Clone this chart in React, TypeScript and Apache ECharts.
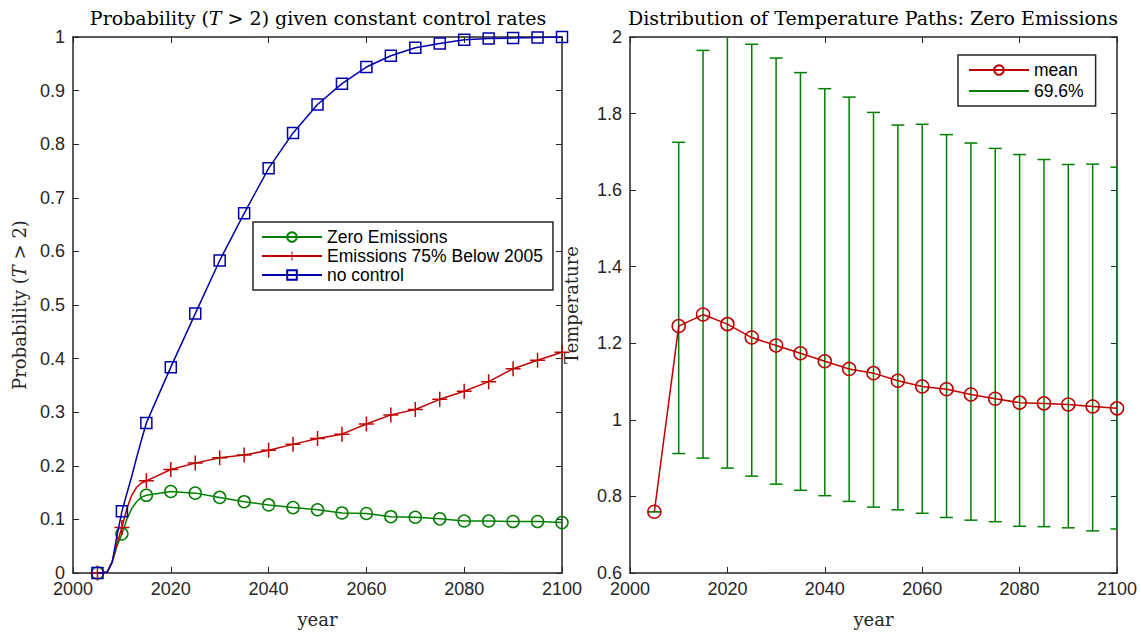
import React, { useEffect, useRef } from "react";
import * as echarts from "echarts";

// ---- Left panel: probability (T > 2) ----
const markerYears = [2005, 2010, 2015, 2020, 2025, 2030, 2035, 2040, 2045, 2050, 2055, 2060, 2065, 2070, 2075, 2080, 2085, 2090, 2095, 2100];
const zeroEmissions = [0, 0.073, 0.145, 0.152, 0.149, 0.141, 0.133, 0.127, 0.122, 0.118, 0.112, 0.111, 0.105, 0.104, 0.101, 0.097, 0.097, 0.096, 0.096, 0.094];
const emissions75 = [0, 0.085, 0.172, 0.193, 0.205, 0.215, 0.22, 0.229, 0.24, 0.251, 0.259, 0.278, 0.295, 0.305, 0.324, 0.339, 0.357, 0.381, 0.397, 0.412];
const noControl = [0, 0.115, 0.28, 0.384, 0.484, 0.583, 0.671, 0.755, 0.821, 0.874, 0.913, 0.944, 0.965, 0.98, 0.988, 0.995, 0.997, 0.998, 0.999, 1.0];
// annual values between markers in the first decade
const earlyYears = [2006, 2007, 2008, 2009, 2011, 2012, 2013, 2014];
const zeroEarly = [0, 0.002, 0.02, 0.05, 0.1, 0.12, 0.133, 0.141];
const e75Early = [0, 0.002, 0.02, 0.055, 0.12, 0.145, 0.16, 0.168];
const noCtrlEarly = [0, 0.002, 0.02, 0.07, 0.148, 0.18, 0.215, 0.248];

// ---- Right panel: temperature paths ----
const meanTemp = [0.76, 1.245, 1.275, 1.25, 1.215, 1.194, 1.174, 1.153, 1.133, 1.122, 1.102, 1.087, 1.08, 1.066, 1.055, 1.045, 1.043, 1.04, 1.035, 1.03];
const bandLow = [0.76, 0.912, 0.9, 0.874, 0.853, 0.832, 0.816, 0.802, 0.787, 0.772, 0.765, 0.756, 0.745, 0.738, 0.734, 0.722, 0.721, 0.718, 0.71, 0.715];
const bandHigh = [0.76, 1.725, 1.965, 2.03, 1.981, 1.945, 1.907, 1.865, 1.843, 1.803, 1.77, 1.772, 1.745, 1.723, 1.709, 1.693, 1.68, 1.667, 1.668, 1.66];

const GREEN = "#007f00";
const RED = "#bf0000";
const BLUE = "#0000a8";
const AXIS = "#262626";
const CLEAR = "rgba(0,0,0,0)";
const SANS = "Liberation Sans, Arial, sans-serif";
const SERIF = "DejaVu Serif, serif";
const PLUS = "path://M9,0H11V9H20V11H11V20H9V11H0V9H9Z";

function buildLine(vals: number[], earlyVals: number[]) {
  const pts: [number, number][] = [];
  markerYears.forEach((y, i) => pts.push([y, vals[i]]));
  earlyYears.forEach((y, i) => pts.push([y, earlyVals[i]]));
  pts.sort((a, b) => a[0] - b[0]);
  return pts.map((p) => (p[0] % 5 === 0 ? { value: p } : { value: p, symbol: "none" }));
}

const axisCommon = {
  axisLine: { show: true, onZero: false, lineStyle: { color: AXIS, width: 1.5 } },
  axisTick: { show: true, inside: true, length: 6, lineStyle: { color: AXIS, width: 1 } },
  splitLine: { show: false },
  axisLabel: { color: AXIS, fontSize: 18, lineHeight: 14, fontFamily: SANS },
};

function xAxes(gridIndex: number) {
  return [
    {
      ...axisCommon,
      gridIndex,
      type: "value",
      position: "bottom",
      min: 2000,
      max: 2100,
      interval: 20,
      axisLabel: { ...axisCommon.axisLabel, margin: 9, formatter: (v: number) => String(v) },
      name: "year",
      nameLocation: "middle",
      nameGap: 37,
      nameTextStyle: { fontFamily: SERIF, fontSize: 18, color: AXIS },
    },
    {
      ...axisCommon,
      gridIndex,
      type: "value",
      position: "top",
      min: 2000,
      max: 2100,
      interval: 20,
      axisLabel: { show: false },
    },
  ];
}

function yAxes(gridIndex: number, min: number, max: number, interval: number, name: string, nameGap: number) {
  return [
    {
      ...axisCommon,
      gridIndex,
      type: "value",
      position: "left",
      min,
      max,
      interval,
      axisLabel: { ...axisCommon.axisLabel, margin: 8 },
      name,
      nameLocation: "middle",
      nameGap,
      nameRotate: 90,
      nameTextStyle: {
        fontFamily: SERIF,
        fontSize: 18,
        color: AXIS,
        rich: {
          n: { fontFamily: SERIF, fontSize: 18, color: AXIS },
          i: { fontFamily: SERIF, fontSize: 18, color: AXIS, fontStyle: "italic" },
        },
      },
    },
    {
      ...axisCommon,
      gridIndex,
      type: "value",
      position: "right",
      min,
      max,
      interval,
      axisLabel: { show: false },
    },
  ];
}

export default function App() {
  const ref = useRef<HTMLDivElement>(null);
  useEffect(() => {
    if (!ref.current) return;
    const chart = echarts.init(ref.current, null, { renderer: "svg" });
    const titleRich = {
      n: { fontFamily: SERIF, fontSize: 19, fill: "#000" },
      i: { fontFamily: SERIF, fontSize: 19, fill: "#000", fontStyle: "italic" },
    };
    const legendText = { fontFamily: SANS, fontSize: 17.5, color: "#000" };
    const option: any = {
      animation: false,
      backgroundColor: "#fff",
      graphic: [
        {
          type: "text",
          x: 318,
          y: 18,
          style: {
            text: "{n|Probability (}{i|T}{n| > 2) given constant control rates}",
            rich: titleRich,
            textAlign: "center",
            textVerticalAlign: "middle",
            fill: "#000",
          },
        },
        {
          type: "text",
          x: 873,
          y: 18,
          style: {
            text: "Distribution of Temperature Paths: Zero Emissions",
            font: "19px " + SERIF,
            textAlign: "center",
            textVerticalAlign: "middle",
            fill: "#000",
          },
        },
      ],
      grid: [
        { left: 73, top: 37, width: 489, height: 539 },
        { left: 630, top: 37, width: 487, height: 539 },
      ],
      xAxis: [...xAxes(0), ...xAxes(1)],
      yAxis: [
        ...yAxes(0, 0, 1, 0.1, "{n|Probability (}{i|T}{n| > 2)}", 45),
        ...yAxes(1, 0.6, 2, 0.2, "Temperature", 50),
      ],
      legend: [
        {
          orient: "vertical",
          left: 253,
          top: 222,
          itemWidth: 60,
          itemHeight: 12,
          itemGap: 1,
          padding: [6, 10, 6, 8],
          backgroundColor: "#fff",
          borderColor: AXIS,
          borderWidth: 1.5,
          borderRadius: 0,
          textStyle: legendText,
          data: ["Zero Emissions", "Emissions 75% Below 2005", "no control"],
        },
        {
          orient: "vertical",
          left: 958,
          top: 55,
          itemWidth: 60,
          itemHeight: 12,
          itemGap: 3,
          padding: [6, 12, 6, 10],
          backgroundColor: "#fff",
          borderColor: AXIS,
          borderWidth: 1.5,
          borderRadius: 0,
          textStyle: legendText,
          data: ["mean", "69.6%"],
        },
      ],
      series: [
        {
          name: "Zero Emissions",
          type: "line",
          xAxisIndex: 0,
          yAxisIndex: 0,
          data: buildLine(zeroEmissions, zeroEarly),
          symbol: "circle",
          symbolSize: 12,
          color: GREEN,
          lineStyle: { color: GREEN, width: 1.5 },
          itemStyle: { color: CLEAR, borderColor: GREEN, borderWidth: 1.5 },
          z: 3,
        },
        {
          name: "Emissions 75% Below 2005",
          type: "line",
          xAxisIndex: 0,
          yAxisIndex: 0,
          data: buildLine(emissions75, e75Early),
          symbol: PLUS,
          symbolSize: 15,
          color: RED,
          lineStyle: { color: RED, width: 1.5 },
          itemStyle: { color: RED },
          z: 4,
        },
        {
          name: "no control",
          type: "line",
          xAxisIndex: 0,
          yAxisIndex: 0,
          data: buildLine(noControl, noCtrlEarly),
          symbol: "rect",
          symbolSize: 11,
          color: BLUE,
          lineStyle: { color: BLUE, width: 1.5 },
          itemStyle: { color: CLEAR, borderColor: BLUE, borderWidth: 1.5 },
          z: 5,
        },
        {
          name: "bars",
          type: "custom",
          xAxisIndex: 2,
          yAxisIndex: 2,
          clip: true,
          data: markerYears.map((y, i) => [y, bandLow[i], bandHigh[i]]),
          encode: { x: 0, y: [1, 2] },
          z: 2,
          renderItem: (params: any, api: any) => {
            const x = api.value(0);
            const lo = api.coord([x, api.value(1)]);
            const hi = api.coord([x, api.value(2)]);
            const w = 6.5;
            const st = { stroke: GREEN, lineWidth: 1.5 };
            return {
              type: "group",
              children: [
                { type: "line", shape: { x1: lo[0], y1: hi[1], x2: lo[0], y2: lo[1] }, style: st },
                { type: "line", shape: { x1: lo[0] - w, y1: lo[1], x2: lo[0] + w, y2: lo[1] }, style: st },
                { type: "line", shape: { x1: hi[0] - w, y1: hi[1], x2: hi[0] + w, y2: hi[1] }, style: st },
              ],
            };
          },
        },
        {
          name: "69.6%",
          type: "line",
          xAxisIndex: 2,
          yAxisIndex: 2,
          data: [],
          symbol: "none",
          color: GREEN,
          lineStyle: { color: GREEN, width: 1.5 },
          itemStyle: { color: CLEAR, borderColor: CLEAR, opacity: 0 },
        },
        {
          name: "mean",
          type: "line",
          xAxisIndex: 2,
          yAxisIndex: 2,
          data: markerYears.map((y, i) => [y, meanTemp[i]]),
          symbol: "circle",
          symbolSize: 13,
          color: RED,
          lineStyle: { color: RED, width: 1.5 },
          itemStyle: { color: CLEAR, borderColor: RED, borderWidth: 1.5 },
          z: 5,
        },
      ],
    };
    chart.setOption(option);
    return () => chart.dispose();
  }, []);
  return (
    <div
      ref={ref}
      style={{ position: "fixed", left: 0, top: 0, width: 1141, height: 633, background: "#fff" }}
    />
  );
}
